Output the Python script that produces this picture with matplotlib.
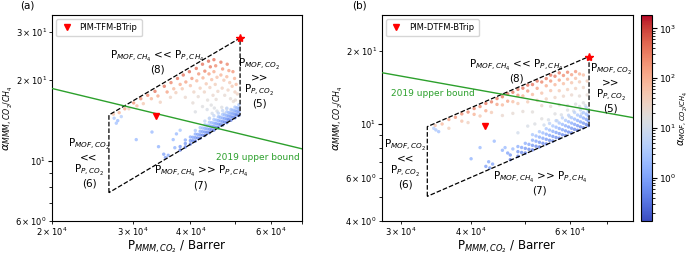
import numpy as np
import matplotlib
matplotlib.use("Agg")
import matplotlib.pyplot as plt
from matplotlib.colors import LogNorm
from matplotlib.cm import ScalarMappable

# ---------------- panel (a): PIM-TFM-BTrip ----------------
# MMM CO2 permeability (kBarrer), MMM CO2/CH4 selectivity, MOF CO2/CH4 selectivity
a_p = [27.2, 28.0, 28.8, 29.4, 30.1, 30.6, 31.2, 31.6, 32.3, 32.9, 33.5, 34.0, 34.4, 35.1, 35.6,
       36.3, 36.8, 36.2, 37.5, 38.0, 37.2, 38.6, 39.1, 38.4, 39.0, 39.8, 40.3, 40.0, 40.7, 40.5,
       41.2, 41.7, 41.3, 42.0, 41.6, 42.5, 43.0, 42.6, 43.3, 42.9, 43.6, 43.8, 44.2, 43.9, 44.5,
       44.1, 44.8, 44.4, 45.0, 45.4, 45.0, 45.7, 45.3, 45.9, 45.5, 45.1, 46.6, 47.0, 46.6, 47.3,
       46.9, 47.5, 48.1, 48.5, 48.0, 48.7, 48.3, 48.9, 49.5, 49.9, 49.3, 50.0, 49.6, 50.3, 50.6,
       50.1,
       # grey band
       42.5, 43.5, 44.6, 45.7, 46.8, 47.4, 48.0, 48.6, 49.1, 49.8, 50.3, 50.8, 41.0, 46.2, 44.0,
       48.2,
       # blue band
       38.0, 39.0, 40.0, 41.0, 42.0, 43.0, 44.0, 45.0, 46.0, 47.0, 48.0, 49.0, 50.0, 51.0,
       38.0, 39.0, 40.0, 41.0, 42.0, 43.0, 44.0, 45.0, 46.0, 47.0, 48.0, 49.0, 50.0, 51.0,
       39.0, 40.0, 41.0, 42.0, 43.0, 44.0, 45.0, 46.0, 47.0, 48.0, 49.0, 50.0, 51.0,
       41.0, 42.0, 43.0, 44.0, 45.0, 46.0, 47.0, 48.0, 49.0, 50.0, 51.0,
       43.0, 44.0, 45.0, 46.0, 47.0, 48.0,
       40.5, 41.5, 42.5, 43.5, 44.5, 45.5, 46.5, 47.5, 48.5, 49.5, 50.5,
       40.5, 41.5, 42.5, 43.5, 44.5, 45.5, 46.5, 47.5, 48.5, 49.5, 50.5,
       42.5, 43.5, 44.5, 45.5, 46.5, 47.5, 48.5, 49.5, 50.5,
       # scattered blue
       27.3, 27.8, 28.3, 27.6, 34.1, 35.0, 35.3, 35.8, 36.7, 37.3, 38.0, 37.0, 33.0, 30.5]
a_alpha = [14.9, 15.1, 15.6, 15.6, 16.4, 16.0, 17.0, 16.3, 17.5, 17.0, 18.1, 17.4, 16.5, 18.9, 18.0,
           19.5, 18.5, 17.2, 20.2, 19.2, 17.9, 20.8, 19.6, 18.5, 17.2, 21.4, 20.2, 19.0, 18.0, 16.4,
           22.0, 21.0, 19.8, 18.6, 17.3, 22.8, 21.5, 20.3, 19.3, 18.0, 16.8, 23.4, 22.3, 21.0, 20.0,
           18.7, 17.5, 16.1, 23.7, 22.5, 21.4, 20.4, 19.2, 18.1, 16.9, 15.7, 23.2, 21.9, 20.8, 19.9,
           18.6, 17.5, 22.8, 21.6, 20.5, 19.5, 18.3, 17.0, 21.4, 20.2, 18.9, 18.0, 16.6, 19.2, 17.7,
           16.8,
           15.9, 15.5, 15.0, 15.3, 15.8, 15.0, 15.6, 14.9, 15.4, 15.2, 14.9, 15.6, 15.2, 14.6, 14.4,
           14.3,
           10.98, 11.27, 11.56, 11.85, 12.14, 12.43, 12.72, 13.01, 13.29, 13.58, 13.87, 14.16, 14.45, 14.74,
           11.31, 11.61, 11.90, 12.20, 12.50, 12.80, 13.10, 13.39, 13.69, 13.99, 14.29, 14.58, 14.88, 15.18,
           11.96, 12.27, 12.58, 12.88, 13.19, 13.50, 13.80, 14.11, 14.42, 14.72, 15.03, 15.34, 15.64,
           12.97, 13.29, 13.61, 13.92, 14.24, 14.56, 14.87, 15.19, 15.51, 15.82, 16.14,
           14.05, 14.38, 14.71, 15.03, 15.36, 15.69,
           11.88, 12.17, 12.46, 12.76, 13.05, 13.34, 13.64, 13.93, 14.22, 14.52, 14.81,
           12.24, 12.54, 12.84, 13.14, 13.44, 13.75, 14.05, 14.35, 14.65, 14.95, 15.26,
           13.24, 13.55, 13.86, 14.17, 14.49, 14.80, 15.11, 15.42, 15.73,
           14.4, 14.1, 14.6, 13.8, 11.3, 10.6, 10.3, 10.5, 12.0, 12.6, 13.0, 11.2, 12.8, 12.0]
a_cmof = [60, 90, 150, 40, 200, 70, 250, 50, 300, 90, 400, 120, 35, 450, 150,
          300, 80, 30, 450, 120, 40, 400, 150, 50, 25, 500, 200, 60, 30, 20,
          450, 200, 80, 40, 22, 450, 300, 100, 50, 30, 18, 500, 350, 150, 70,
          35, 25, 15, 450, 250, 120, 60, 40, 28, 20, 14, 400, 200, 90, 50,
          35, 22, 300, 150, 80, 45, 30, 20, 200, 100, 50, 35, 20, 70, 30,
          22,
          15, 12, 10, 12, 14, 10, 12, 9, 11, 10, 9, 12, 14, 9, 9,
          8,
          0.35, 0.35, 0.35, 0.35, 0.35, 0.35, 0.35, 0.35, 0.35, 0.35, 0.35, 0.35, 0.35, 0.35,
          0.7, 0.7, 0.7, 0.7, 0.7, 0.7, 0.7, 0.7, 0.7, 0.7, 0.7, 0.7, 0.7, 0.7,
          1.3, 1.3, 1.3, 1.3, 1.3, 1.3, 1.3, 1.3, 1.3, 1.3, 1.3, 1.3, 1.3,
          3, 3, 3, 3, 3, 3, 3, 3, 3, 3, 3,
          6, 6, 6, 6, 6, 6,
          0.5, 0.5, 0.5, 0.5, 0.5, 0.5, 0.5, 0.5, 0.5, 0.5, 0.5,
          1.0, 1.0, 1.0, 1.0, 1.0, 1.0, 1.0, 1.0, 1.0, 1.0, 1.0,
          2, 2, 2, 2, 2, 2, 2, 2, 2,
          3, 2, 4, 2.5, 1.5, 1.0, 0.8, 1.2, 2, 2, 3, 1.5, 2, 2]
a_box_p = [26.6, 26.6, 51.3, 51.3, 26.6]
a_box_alpha = [7.64, 14.8, 28.5, 14.8, 7.64]
a_pim = (33.7, 14.7)
a_star = (51.3, 28.5)

# ---------------- panel (b): PIM-DTFM-BTrip ----------------
b_p = [34.5, 35.5, 36.5, 36.5, 37.5, 38.5, 38.5, 39.5, 39.5, 40.5, 40.5, 41.5, 41.5, 42.5, 42.5,
       43.5, 43.5, 44.5, 44.5, 45.5, 45.5, 45.5, 46.5, 46.5, 47.5, 47.5, 47.5, 48.5, 48.5, 48.5,
       49.5, 49.5, 49.5, 50.5, 50.5, 50.5, 51.5, 51.5, 51.5, 52.5, 52.5, 52.5, 53.5, 53.5, 53.5,
       54.5, 54.5, 54.5, 55.5, 55.5, 55.5, 55.5, 56.5, 56.5, 56.5, 57.5, 57.5, 57.5, 57.5, 58.5,
       58.5, 58.5, 59.5, 59.5, 59.5, 59.5, 60.5, 60.5, 60.5, 61.5, 61.5, 61.5, 61.5, 62.5, 62.5,
       62.5, 63.5, 63.5, 63.5, 64.5, 64.5,
       # grey band
       50.5, 52.0, 53.5, 55.0, 56.5, 58.0, 59.5, 61.0, 62.5, 64.0, 64.8, 57.0, 60.0, 63.0, 54.0,
       48.5,
       # blue band
       47.0, 48.5, 50.0, 51.5, 53.0, 54.5, 56.0, 57.5, 59.0, 60.5, 62.0, 63.5, 64.8,
       47.0, 48.5, 50.0, 51.5, 53.0, 54.5, 56.0, 57.5, 59.0, 60.5, 62.0, 63.5, 64.8,
       48.5, 50.0, 51.5, 53.0, 54.5, 56.0, 57.5, 59.0, 60.5, 62.0, 63.5, 64.8,
       51.5, 53.0, 54.5, 56.0, 57.5, 59.0, 60.5, 62.0, 63.5, 64.8,
       49.25, 50.75, 52.25, 53.75, 55.25, 56.75, 58.25, 59.75, 61.25, 62.75, 64.25,
       49.25, 50.75, 52.25, 53.75, 55.25, 56.75, 58.25, 59.75, 61.25, 62.75, 64.25,
       52.25, 53.75, 55.25, 56.75, 58.25, 59.75, 61.25, 62.75, 64.25,
       55.25, 56.75, 58.25, 59.75, 61.25, 62.75, 64.25,
       # scattered blue
       34.6, 35.0, 34.3, 44.0, 42.5, 43.2, 43.7, 43.0, 45.5, 46.5, 47.5, 46.0, 41.5, 40.0]
b_alpha = [9.86, 10.0, 10.43, 9.6, 10.65, 11.0, 10.27, 11.19, 10.13, 11.57, 10.95, 11.79, 10.78, 12.14, 11.33,
           12.32, 11.15, 12.71, 12.03, 12.93, 11.97, 10.83, 13.29, 12.4, 13.49, 12.34, 11.05, 13.86, 13.11, 12.13,
           14.02, 13.03, 11.25, 14.43, 13.65, 12.32, 14.51, 13.21, 11.2, 15.0, 14.0, 12.5, 14.86, 13.38, 11.89,
           15.35, 14.34, 12.67, 15.86, 15.0, 13.7, 11.8, 15.69, 14.49, 12.84, 16.2, 15.13, 13.69, 11.98, 15.81,
           14.63, 13.0, 16.3, 15.26, 13.84, 11.9, 15.92, 14.76, 13.15, 16.4, 15.38, 13.98, 12.06, 16.03, 14.88,
           13.02, 15.88, 14.11, 12.21, 15.0, 13.16,
           9.8, 10.0, 10.5, 10.4, 11.0, 10.9, 11.4, 11.3, 11.8, 11.9, 11.3, 10.3, 10.7, 11.0, 9.9,
           9.2,
           7.14, 7.37, 7.60, 7.83, 8.05, 8.28, 8.51, 8.74, 8.97, 9.19, 9.42, 9.65, 9.85,
           7.46, 7.70, 7.94, 8.17, 8.41, 8.65, 8.89, 9.13, 9.37, 9.60, 9.84, 10.08, 10.29,
           8.08, 8.33, 8.58, 8.83, 9.08, 9.33, 9.58, 9.83, 10.08, 10.33, 10.58, 10.8,
           9.04, 9.30, 9.56, 9.82, 10.09, 10.35, 10.61, 10.88, 11.14, 11.37,
           7.64, 7.87, 8.10, 8.33, 8.57, 8.80, 9.03, 9.26, 9.50, 9.73, 9.96,
           8.01, 8.25, 8.50, 8.74, 8.98, 9.23, 9.47, 9.72, 9.96, 10.2, 10.45,
           8.93, 9.19, 9.44, 9.70, 9.96, 10.21, 10.47, 10.73, 10.98,
           10.05, 10.32, 10.59, 10.86, 11.14, 11.41, 11.68,
           9.45, 9.3, 9.6, 8.5, 6.7, 6.6, 6.85, 7.0, 7.8, 7.6, 7.9, 8.0, 8.0, 7.2]
b_cmof = [60, 80, 150, 40, 200, 250, 60, 300, 35, 350, 100, 300, 50, 400, 120,
          350, 45, 450, 150, 400, 80, 25, 450, 150, 400, 70, 22, 450, 200, 50,
          450, 100, 20, 450, 200, 45, 400, 80, 18, 450, 150, 40, 300, 60, 25,
          400, 120, 35, 450, 200, 60, 20, 350, 90, 30, 400, 150, 45, 20, 250,
          70, 28, 300, 100, 40, 16, 150, 55, 25, 200, 70, 35, 15, 100, 45,
          20, 70, 30, 15, 40, 20,
          12, 14, 16, 12, 15, 12, 14, 11, 13, 12, 9, 9, 9, 8, 9,
          10,
          0.35, 0.35, 0.35, 0.35, 0.35, 0.35, 0.35, 0.35, 0.35, 0.35, 0.35, 0.35, 0.35,
          0.7, 0.7, 0.7, 0.7, 0.7, 0.7, 0.7, 0.7, 0.7, 0.7, 0.7, 0.7, 0.7,
          1.3, 1.3, 1.3, 1.3, 1.3, 1.3, 1.3, 1.3, 1.3, 1.3, 1.3, 1.3,
          3, 3, 3, 3, 3, 3, 3, 3, 3, 3,
          0.5, 0.5, 0.5, 0.5, 0.5, 0.5, 0.5, 0.5, 0.5, 0.5, 0.5,
          1.0, 1.0, 1.0, 1.0, 1.0, 1.0, 1.0, 1.0, 1.0, 1.0, 1.0,
          2, 2, 2, 2, 2, 2, 2, 2, 2,
          5, 5, 5, 5, 5, 5, 5,
          3, 2.5, 4, 2, 0.8, 0.7, 1.0, 1.2, 1.5, 1.0, 2, 2, 2, 1.5]
b_box_p = [33.4, 33.4, 65.0, 65.0, 33.4]
b_box_alpha = [5.05, 9.75, 18.9, 9.8, 5.05]
b_pim = (42.4, 9.8)
b_star = (65.0, 18.9)

# 2019 upper bound (CO2/CH4)
ub_p = [20.0, 80.0]
ub_alpha = [18.55, 10.5]

norm = LogNorm(vmin=0.135, vmax=1860)
cmap = "coolwarm"

fig = plt.figure(figsize=(6.93, 2.57), dpi=100)
ax1 = fig.add_axes([0.075, 0.14, 0.361, 0.802])
ax2 = fig.add_axes([0.551, 0.14, 0.362, 0.802])
cax = fig.add_axes([0.925, 0.14, 0.0165, 0.802])

lab_fs = 7.5
panels = [
    (ax1, a_p, a_alpha, a_cmof, a_box_p, a_box_alpha, a_pim, a_star, "PIM-TFM-BTrip",
     (2e4, 7e4), (6, 34.7)),
    (ax2, b_p, b_alpha, b_cmof, b_box_p, b_box_alpha, b_pim, b_star, "PIM-DTFM-BTrip",
     (2.77e4, 7.78e4), (4, 28)),
]
for ax, p, al, cm, bp, ba, pim, star, name, xl, yl in panels:
    ax.set_xscale("log")
    ax.set_yscale("log")
    ax.scatter(np.array(p) * 1e3, al, c=cm, cmap=cmap, norm=norm, s=6, alpha=0.75,
               linewidths=0, zorder=2)
    ax.plot(np.array(bp) * 1e3, ba, "k--", lw=0.9, zorder=3)
    ax.plot(np.array(ub_p) * 1e3, ub_alpha, color="tab:green", lw=1, zorder=3)
    ax.plot(star[0] * 1e3, star[1], marker="*", color="red", ms=6, ls="none", zorder=4)
    ax.plot(pim[0] * 1e3, pim[1], marker="v", color="red", ms=4, ls="none", zorder=4,
            label=name)
    ax.set_xlim(*xl)
    ax.set_ylim(*yl)
    ax.tick_params(which="both", labelsize=6, pad=1.5, length=3)
    ax.tick_params(which="minor", length=2)
    ax.set_xlabel(r"P$_{MMM,CO_2}$ / Barrer", fontsize=8.5, labelpad=0)
    ax.set_ylabel(r"$\alpha_{MMM,CO_2/CH_4}$", fontsize=8, labelpad=0)
    ax.legend(loc="upper left", fontsize=6, handletextpad=0.8, borderpad=0.5,
              handlelength=1.5)

# annotations, panel (a)
ax1.text(0.42, 0.774, "P$_{MOF,CH_4}$ << P$_{P,CH_4}$\n(8)", transform=ax1.transAxes,
         ha="center", va="center", fontsize=lab_fs, linespacing=1.1)
ax1.text(0.829, 0.672, "P$_{MOF,CO_2}$\n>>\nP$_{P,CO_2}$\n(5)", transform=ax1.transAxes,
         ha="center", va="center", fontsize=lab_fs, linespacing=1.05)
ax1.text(0.148, 0.281, "P$_{MOF,CO_2}$\n<<\nP$_{P,CO_2}$\n(6)", transform=ax1.transAxes,
         ha="center", va="center", fontsize=lab_fs, linespacing=1.05)
ax1.text(0.595, 0.212, "P$_{MOF,CH_4}$ >> P$_{P,CH_4}$\n(7)", transform=ax1.transAxes,
         ha="center", va="center", fontsize=lab_fs, linespacing=1.1)
ax1.text(0.99, 0.307, "2019 upper bound", transform=ax1.transAxes, ha="right",
         va="center", fontsize=6.5, color="tab:green")

# annotations, panel (b)
ax2.text(0.537, 0.73, "P$_{MOF,CH_4}$ << P$_{P,CH_4}$\n(8)", transform=ax2.transAxes,
         ha="center", va="center", fontsize=lab_fs, linespacing=1.1)
ax2.text(0.912, 0.647, "P$_{MOF,CO_2}$\n>>\nP$_{P,CO_2}$\n(5)", transform=ax2.transAxes,
         ha="center", va="center", fontsize=lab_fs, linespacing=1.05)
ax2.text(0.093, 0.279, "P$_{MOF,CO_2}$\n<<\nP$_{P,CO_2}$\n(6)", transform=ax2.transAxes,
         ha="center", va="center", fontsize=lab_fs, linespacing=1.05)
ax2.text(0.63, 0.186, "P$_{MOF,CH_4}$ >> P$_{P,CH_4}$\n(7)", transform=ax2.transAxes,
         ha="center", va="center", fontsize=lab_fs, linespacing=1.1)
ax2.text(0.035, 0.619, "2019 upper bound", transform=ax2.transAxes, ha="left",
         va="center", fontsize=6.5, color="tab:green")

fig.text(0.039, 0.98, "(a)", ha="center", va="center", fontsize=7.5)
fig.text(0.519, 0.98, "(b)", ha="center", va="center", fontsize=7.5)

sm = ScalarMappable(norm=norm, cmap=cmap)
cb = fig.colorbar(sm, cax=cax)
cb.ax.tick_params(which="both", labelsize=6.5, pad=1.5)
cb.set_label(r"$\alpha_{MOF,CO_2/CH_4}$", fontsize=7, labelpad=0)

fig.savefig("out.png", dpi=100)
